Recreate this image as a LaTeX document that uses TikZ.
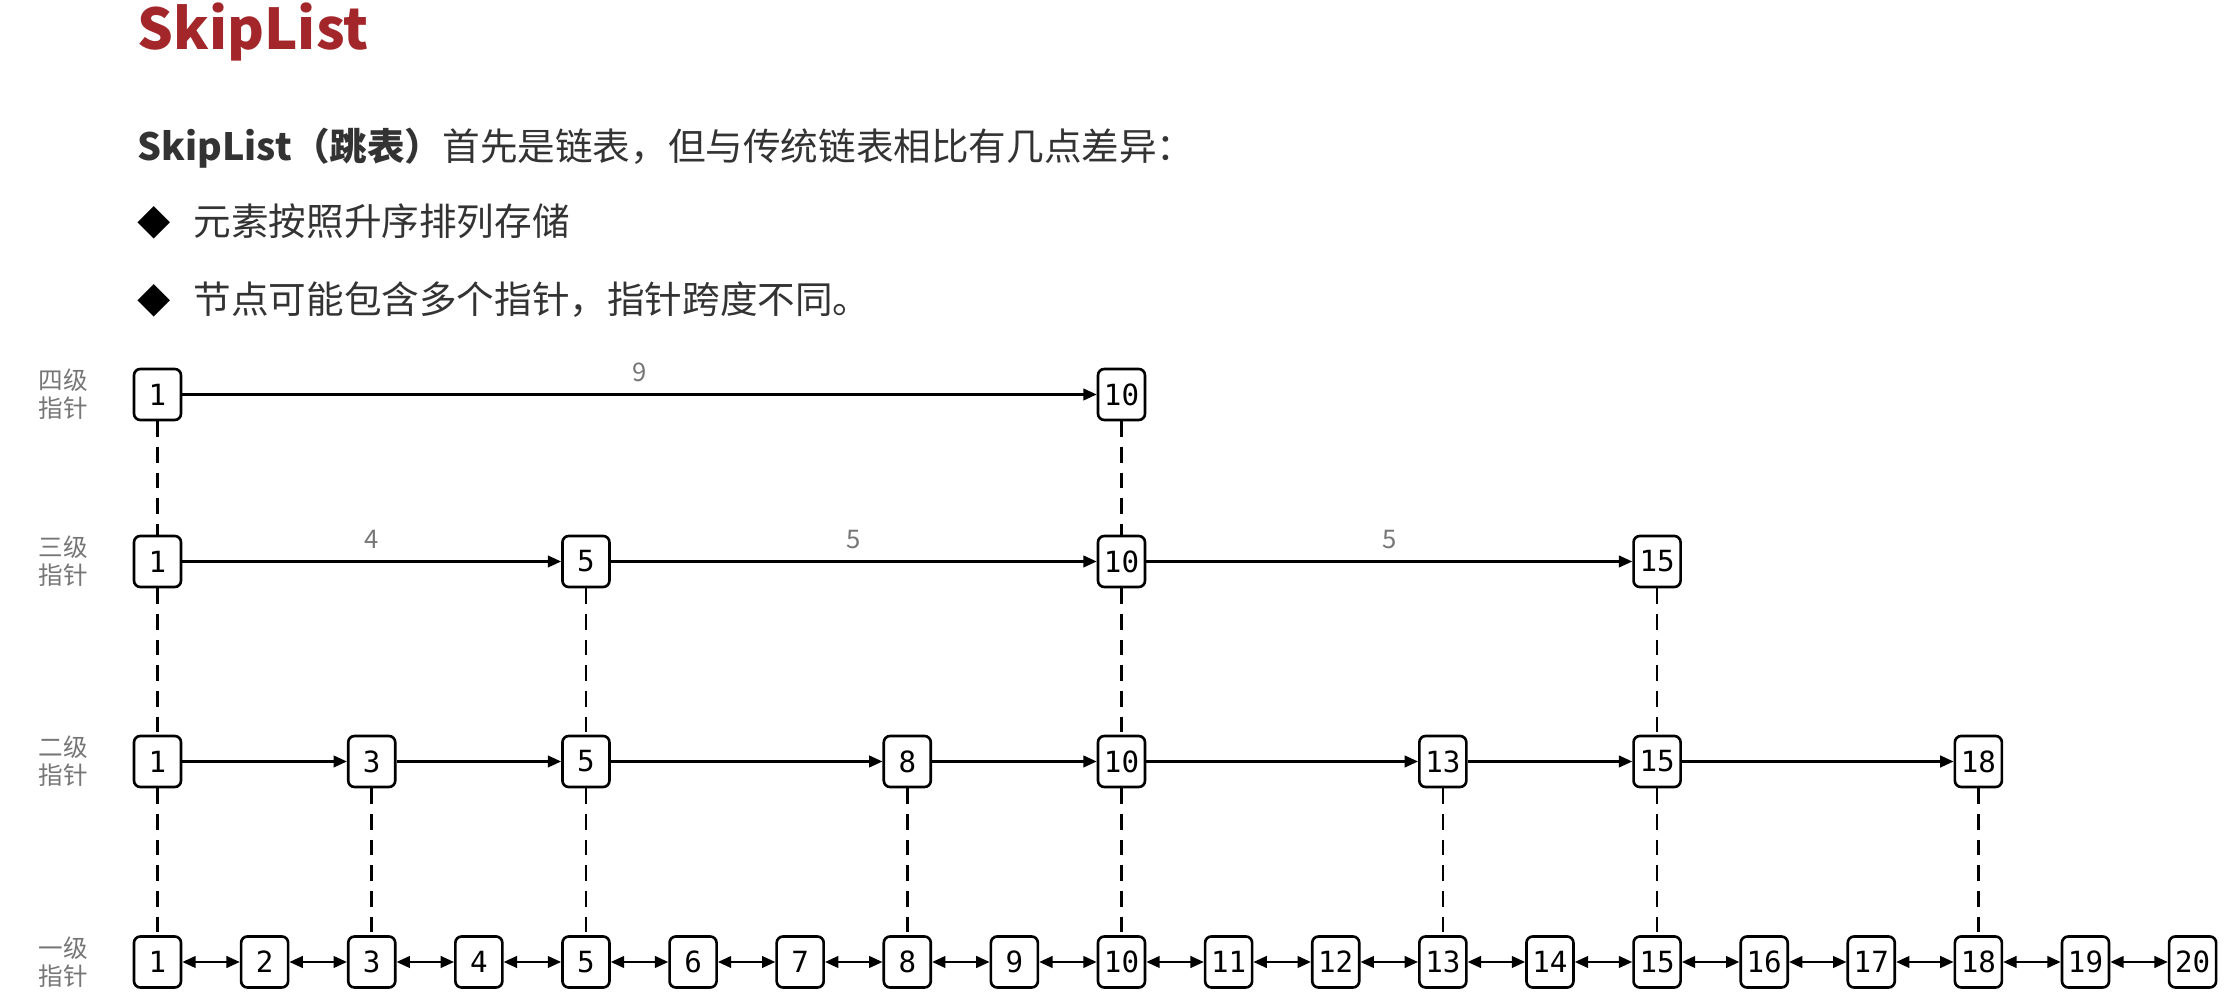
\documentclass[tikz,border=0pt]{standalone}
\usepackage{fontspec}
\setmainfont{Noto Sans CJK SC}
\newfontfamily\numfont{DejaVu Sans Mono}
\usetikzlibrary{arrows.meta}
\definecolor{titlered}{RGB}{163,38,43}
\definecolor{textgray}{RGB}{51,51,51}
\definecolor{lblgray}{RGB}{118,118,118}
\newcommand{\Pt}[1]{{\color{black}\fontsize{9.5}{11}\selectfont ◆}\hspace{0.226cm}#1}

\begin{document}
\begin{tikzpicture}[
    box/.style={draw, line width=0.75pt, rounded corners=1.8pt, minimum width=0.47cm,
        minimum height=0.51cm, inner sep=0pt, font=\numfont\fontsize{8.3}{9}\selectfont},
    lvl/.style={align=center, text=lblgray, font=\fontsize{7}{8}\selectfont},
    gap/.style={text=lblgray, font=\fontsize{7.3}{8}\selectfont},
    txt/.style={anchor=base west, inner sep=0pt, text=textgray, font=\fontsize{10.7}{13}\selectfont},
    link/.style={line width=0.65pt},
    vline/.style={line width=0.75pt, dash pattern=on 4.5pt off 2.8pt},
    >={Triangle[length=3.8pt,width=3.3pt]}
]
    \useasboundingbox (0,0) rectangle (22.36,-9.97);

    % heading and points
    \draw(1.37,-0.5) node[txt, text=titlered, font=\bfseries\fontsize{16}{19}\selectfont] (title) {SkipList};
    \draw(1.37,-1.61) node[txt] (intro) {{\bfseries SkipList（跳表）}首先是链表，但与传统链表相比有几点差异：};
    \draw(1.37,-2.355) node[txt] (pt1) {\Pt{元素按照升序排列存储}};
    \draw(1.37,-3.14) node[txt] (pt2) {\Pt{节点可能包含多个指针，指针跨度不同。}};

    % level names
    \draw(0.63,-3.945) node[lvl] (l4) {四级\\指针};
    \draw(0.63,-5.615) node[lvl] (l3) {三级\\指针};
    \draw(0.63,-7.615) node[lvl] (l2) {二级\\指针};
    \draw(0.63,-9.62) node[lvl] (l1) {一级\\指针};

    \begin{scope}[shift={(0.504,0)}, x=1.0711cm]
        \foreach \i in {1,...,20}
            \draw(\i,-9.62) node[box] (a\i) {\i};
        \foreach \i in {1,3,5,8,10,13,15,18}
            \draw(\i,-7.615) node[box] (b\i) {\i};
        \foreach \i in {1,5,10,15}
            \draw(\i,-5.615) node[box] (c\i) {\i};
        \foreach \i in {1,10}
            \draw(\i,-3.945) node[box] (d\i) {\i};
    \end{scope}

    % pointers
    \foreach \i [evaluate=\i as \j using int(\i+1)] in {1,...,19}
        \draw[<->, link] (a\i) -- (a\j);
    \foreach \i/\j in {1/3,3/5,5/8,8/10,10/13,13/15,15/18}
        \draw[->, link] (b\i) -- (b\j);
    \draw[->, link] (c1) -- (c5) node[midway, above, gap] {4};
    \draw[->, link] (c5) -- (c10) node[midway, above, gap] {5};
    \draw[->, link] (c10) -- (c15) node[midway, above, gap] {5};
    \draw[->, link] (d1) -- (d10) node[midway, above, gap] {9};

    % same element on several levels
    \foreach \i in {1,3,5,8,10,13,15,18}
        \draw[vline] (b\i) -- (a\i);
    \foreach \i in {1,5,10,15}
        \draw[vline] (c\i) -- (b\i);
    \foreach \i in {1,10}
        \draw[vline] (d\i) -- (c\i);

\end{tikzpicture}
\end{document}
